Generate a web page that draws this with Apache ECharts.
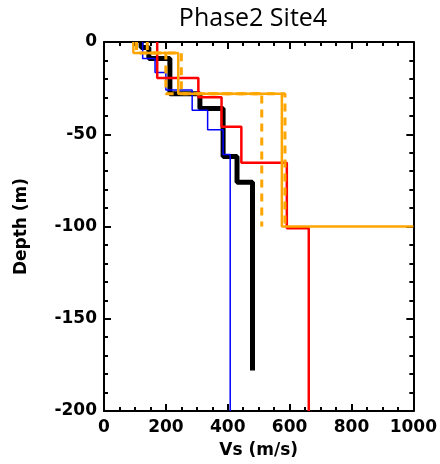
<!DOCTYPE html>
<html>
<head>
<meta charset="utf-8">
<script src="https://cdn.jsdelivr.net/npm/echarts@6/dist/echarts.min.js"></script>
<style>
  html, body { margin: 0; padding: 0; background: #fff; }
  #chart { width: 440px; height: 464px; }
</style>
</head>
<body>
<div id="chart"></div>
<script>
// Vs profiles: velocity of each layer (m/s) and layer boundaries (m depth)
const blackVs = [120, 145, 213, 310, 385, 430, 480];
const blackDepths = [0, 3, 9, 28, 36, 62, 76, 178];

const blueVs = [125, 165, 200, 285, 335, 385, 408];
const blueDepths = [0, 9, 16.5, 26, 37, 47.5, 61, 200];

const redVs = [172, 305, 380, 444, 591, 662];
const redDepths = [0, 19.5, 30, 46, 65.5, 101, 200];

const orangeVs = [95, 240, 575, 1000];
const orangeDepths = [0, 6, 28, 100, 100];

const orangeHiVs = [105, 250, 585];
const orangeHiDepths = [0, 6, 28, 100];

const orangeLoVs = [140, 200, 510];
const orangeLoDepths = [0, 6, 28, 100];

const xTicks = [0, 200, 400, 600, 800, 1000];
const yTicks = [0, -50, -100, -150, -200];

// turn layer tables into step points
function steps(vs, depths) {
  const pts = [];
  vs.forEach((v, i) => {
    pts.push([v, -depths[i]]);
    pts.push([v, -depths[i + 1]]);
  });
  return pts;
}

const labelFont = { fontFamily: 'DejaVu Sans', fontSize: 17, fontWeight: 'bold', color: '#000' };

const chart = echarts.init(document.getElementById('chart'));

const baseX = {
  type: 'value',
  min: xTicks[0],
  max: xTicks[xTicks.length - 1],
  interval: 200,
  axisLine: { show: true, onZero: false, lineStyle: { color: '#000', width: 2 } },
  axisTick: { show: true, inside: true, length: 7, lineStyle: { color: '#000', width: 2 } },
  minorTick: { show: true, splitNumber: 4, length: 4, lineStyle: { color: '#000', width: 2 } },
  splitLine: { show: false },
};
const baseY = {
  type: 'value',
  min: yTicks[yTicks.length - 1],
  max: yTicks[0],
  interval: 50,
  axisLine: { show: true, onZero: false, lineStyle: { color: '#000', width: 2 } },
  axisTick: { show: true, inside: true, length: 7, lineStyle: { color: '#000', width: 2 } },
  minorTick: { show: true, splitNumber: 5, length: 4, lineStyle: { color: '#000', width: 2 } },
  splitLine: { show: false },
};

chart.setOption({
  animation: false,
  backgroundColor: '#fff',
  title: {
    text: 'Phase2 Site4',
    left: 248,
    textAlign: 'center',
    top: 1,
    textStyle: { fontFamily: 'Open Sans', fontSize: 25, fontWeight: 'normal', color: '#000' },
  },
  grid: { left: 104, right: 25, top: 42, bottom: 52 },
  xAxis: [
    {
      ...baseX,
      position: 'bottom',
      name: 'Vs (m/s)',
      nameLocation: 'middle',
      nameGap: 31,
      nameTextStyle: labelFont,
      axisLabel: { ...labelFont, margin: 8, formatter: (v) => String(v) },
    },
    { ...baseX, position: 'top', axisLabel: { show: false } },
  ],
  yAxis: [
    {
      ...baseY,
      position: 'left',
      name: 'Depth (m)',
      nameLocation: 'middle',
      nameGap: 74,
      nameTextStyle: labelFont,
      axisLabel: { ...labelFont, margin: 7, formatter: (v) => String(v) },
    },
    { ...baseY, position: 'right', axisLabel: { show: false } },
  ],
  series: [
    {
      type: 'line', data: steps(blackVs, blackDepths), showSymbol: false,
      lineStyle: { color: '#000', width: 5 }, z: 2,
    },
    {
      type: 'line', data: steps(blueVs, blueDepths), showSymbol: false,
      lineStyle: { color: '#0000ff', width: 1.5 }, z: 3,
    },
    {
      type: 'line', data: steps(redVs, redDepths), showSymbol: false,
      lineStyle: { color: '#ff0000', width: 2.5 }, z: 4,
    },
    {
      type: 'line', data: steps(orangeVs, orangeDepths), showSymbol: false,
      lineStyle: { color: '#ffa500', width: 2.5 }, z: 5,
    },
    {
      type: 'line', data: steps(orangeHiVs, orangeHiDepths), showSymbol: false,
      lineStyle: { color: '#ffa500', width: 3, type: [8, 6] }, z: 5,
    },
    {
      type: 'line', data: steps(orangeLoVs, orangeLoDepths), showSymbol: false,
      lineStyle: { color: '#ffa500', width: 3, type: [8, 6] }, z: 5,
    },
  ],
});
</script>
</body>
</html>
